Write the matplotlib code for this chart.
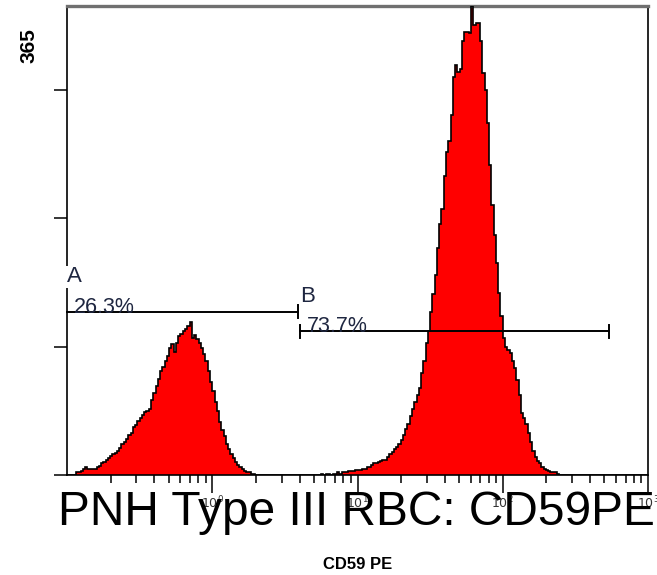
import numpy as np
import matplotlib.pyplot as plt

plt.rcParams['font.family'] = ['Liberation Sans', 'DejaVu Sans']

# CD59 PE histogram, 256 channels over 4 decades
n_bins = 256
log_min, log_max = -1, 3
y_max = 365

# counts of the negative (type III) population, from channel 4
peak1_start = 4
peak1 = [2, 2, 3, 5, 6, 5, 5, 5, 5, 6,
         7, 9, 10, 12, 13, 15, 16, 17, 19, 21,
         24, 26, 28, 31, 33, 37, 39, 42, 44, 47,
         49, 50, 51, 58, 64, 69, 75, 81, 84, 89,
         93, 99, 102, 96, 103, 108, 110, 112, 114, 116,
         119, 107, 109, 106, 103, 99, 94, 89, 81, 72,
         65, 57, 50, 41, 35, 30, 24, 20, 16, 13,
         10, 8, 6, 5, 3, 2, 2, 1, 1]

# counts of the normal population, from channel 112
peak2_start = 112
peak2 = [1, 0, 1, 1, 0, 1, 1, 2, 1, 2,
         2, 2, 3, 3, 3, 4, 4, 4, 5, 5,
         6, 6, 8, 9, 9, 10, 11, 12, 12, 14,
         16, 18, 20, 22, 24, 27, 31, 36, 40, 46,
         51, 57, 62, 68, 79, 89, 103, 112, 127, 141,
         156, 177, 195, 207, 233, 251, 260, 280, 310, 319,
         314, 316, 338, 345, 345, 344, 365, 350, 352, 352,
         338, 313, 300, 274, 241, 210, 187, 165, 142, 124,
         107, 100, 97, 95, 89, 83, 74, 62, 48, 44,
         40, 33, 26, 19, 14, 11, 9, 6, 5, 4,
         3, 2, 2, 2, 1]

# gates: (x from, x to, level, name, percent)
gate_names = ['A', 'B']
gate_lo = [0.1, 4.0]
gate_hi = [3.9, 540]
gate_level = [127, 112]
gate_pct = ['26.3%', '73.7%']

decades = [1, 10, 100, 1000]
decade_labels = ['$10^{0}$', '$10^{1}$', '$10^{2}$', '$10^{3}$']

counts = np.zeros(n_bins)
counts[peak1_start:peak1_start + len(peak1)] = peak1
counts[peak2_start:peak2_start + len(peak2)] = peak2
edges = 10 ** np.linspace(log_min, log_max, n_bins + 1)

fig = plt.figure(figsize=(6.57, 5.75), dpi=100)
ax = fig.add_axes([67 / 657, 100 / 575, 581 / 657, 469 / 575])

ax.stairs(counts, edges, fill=True, color='#ff0000', zorder=2)
ax.stairs(counts, edges, color='black', linewidth=1.2, zorder=3)

ax.set_xscale('log')
ax.set_xlim(10 ** log_min, 10 ** log_max)
ax.set_ylim(0, y_max)

ax.set_xticks(decades)
ax.set_xticklabels(decade_labels, fontsize=9, color='#333333')
ax.tick_params(axis='x', which='major', direction='out', length=13, width=1.1, pad=1)
ax.tick_params(axis='x', which='minor', direction='out', length=6, width=1.1, labelbottom=False)
ax.set_yticks([0, 100, 200, 300])
ax.set_yticklabels([])
ax.tick_params(axis='y', direction='out', length=9.5, width=1.1)

for side in ['left', 'bottom', 'right']:
    ax.spines[side].set_linewidth(1.2)
    ax.spines[side].set_color('black')
ax.spines['top'].set_linewidth(2.4)
ax.spines['top'].set_color('#707070')

# gate bars with end caps
txt_col = '#1e2640'
for i in range(len(gate_names)):
    lo, hi, lev = gate_lo[i], gate_hi[i], gate_level[i]
    ax.plot([lo, hi], [lev, lev], color='black', linewidth=1.4, zorder=4, clip_on=False)
    ax.plot([hi, hi], [lev - 5, lev + 5], color='black', linewidth=1.4, zorder=4)
    if i > 0:
        ax.plot([lo, lo], [lev - 5, lev + 5], color='black', linewidth=1.4, zorder=4)
    ax.text(lo, lev + 23, gate_names[i], fontsize=16, color=txt_col, ha='left',
            va='baseline', zorder=5,
            bbox=dict(facecolor='white', edgecolor='none', pad=0.5) if i == 0 else None)
    ax.text(lo * 1.12, lev - 1, gate_pct[i], fontsize=15.5, color=txt_col, ha='left',
            va='baseline', zorder=5)

ax.text(-0.065, 0.915, str(y_max), transform=ax.transAxes, rotation=90,
        fontsize=15, fontweight='bold', ha='center', va='center')

ax.set_xlabel('CD59 PE', fontsize=12, fontweight='bold', labelpad=33)

fig.text(58 / 657, 1 - 525 / 575, 'PNH Type III RBC: CD59PE', fontsize=34.5,
         color='black', ha='left', va='baseline')

fig.savefig('out.png', dpi=100)
